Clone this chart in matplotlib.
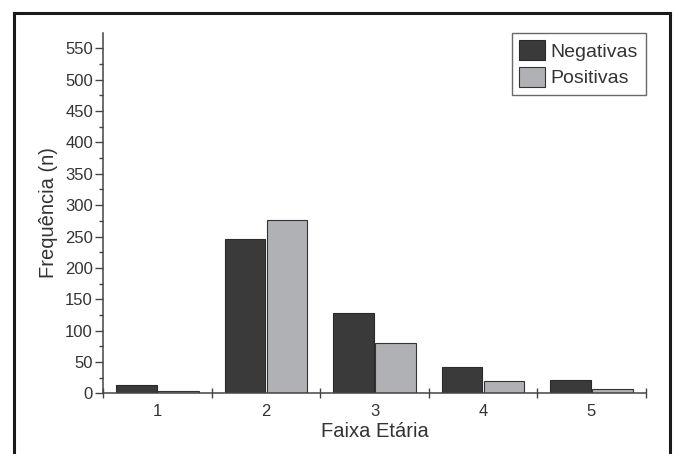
import matplotlib
matplotlib.use("Agg")
import matplotlib.pyplot as plt
import numpy as np
from matplotlib.lines import Line2D

plt.rcParams['font.family'] = ['Liberation Sans', 'DejaVu Sans']

categories = ["1", "2", "3", "4", "5"]
negativas = [13, 246, 128, 42, 21]
positivas = [4, 277, 81, 20, 7]
series_names = ["Negativas", "Positivas"]

txt = "#333333"
fig = plt.figure(figsize=(6.74, 4.54), dpi=100)
ax = fig.add_axes([0.1533, 0.1337, 0.958 - 0.1533, 0.928 - 0.1337])

x = np.arange(1, len(categories) + 1)
w = 0.372
ax.bar(x - 0.193, negativas, width=w, color="#3a3a3a", edgecolor="#2a2a2a", linewidth=0.8, label=series_names[0])
ax.bar(x + 0.193, positivas, width=w, color="#b0b1b4", edgecolor="#333333", linewidth=0.8, label=series_names[1])

ax.set_xlim(0.5, 5.5)
ax.set_ylim(0, 575)

for s in ["top", "right"]:
    ax.spines[s].set_visible(False)
for s in ["left", "bottom"]:
    ax.spines[s].set_color("#444444")
    ax.spines[s].set_linewidth(1.1)

ax.set_yticks(np.arange(0, 551, 50))
ax.set_yticks(np.arange(25, 551, 50), minor=True)
ax.tick_params(axis="y", which="major", direction="out", length=5.5, width=1.0, color="#444444",
               labelsize=12, labelcolor=txt, pad=2)
ax.tick_params(axis="y", which="minor", direction="out", length=3, width=1.0, color="#444444")

ax.set_xticks(x)
ax.set_xticklabels(categories)
ax.set_xticks(np.arange(0.5, 5.6, 1.0), minor=True)
ax.tick_params(axis="x", which="major", length=0, labelsize=12, labelcolor=txt, pad=8)
ax.tick_params(axis="x", which="minor", direction="inout", length=7, width=1.0, color="#444444")

ax.set_xlabel("Faixa Etária", fontsize=14.5, color=txt, labelpad=2)
ax.set_ylabel("Frequência (n)", fontsize=14.5, color=txt, labelpad=5)

leg = ax.legend(loc="upper right", bbox_to_anchor=(1.0, 1.0), fontsize=14, frameon=True,
                fancybox=False, edgecolor="#444444", handlelength=1.3, handleheight=1.2,
                handletextpad=0.3, borderpad=0.4, labelspacing=0.3, borderaxespad=0.0)
leg.get_frame().set_linewidth(1.0)
for t in leg.get_texts():
    t.set_color(txt)

# outer frame (top, left, right)
W, H = 674.0, 454.0
fx0, fx1, fy = 13.5 / W, 669.5 / W, 1 - 12.5 / H
for xs, ys in [([fx0, fx0], [-0.01, fy]), ([fx0, fx1], [fy, fy]), ([fx1, fx1], [fy, -0.01])]:
    fig.add_artist(Line2D(xs, ys, transform=fig.transFigure, color="#1a1a1a", linewidth=2.2))

fig.savefig("out.png", dpi=100)
